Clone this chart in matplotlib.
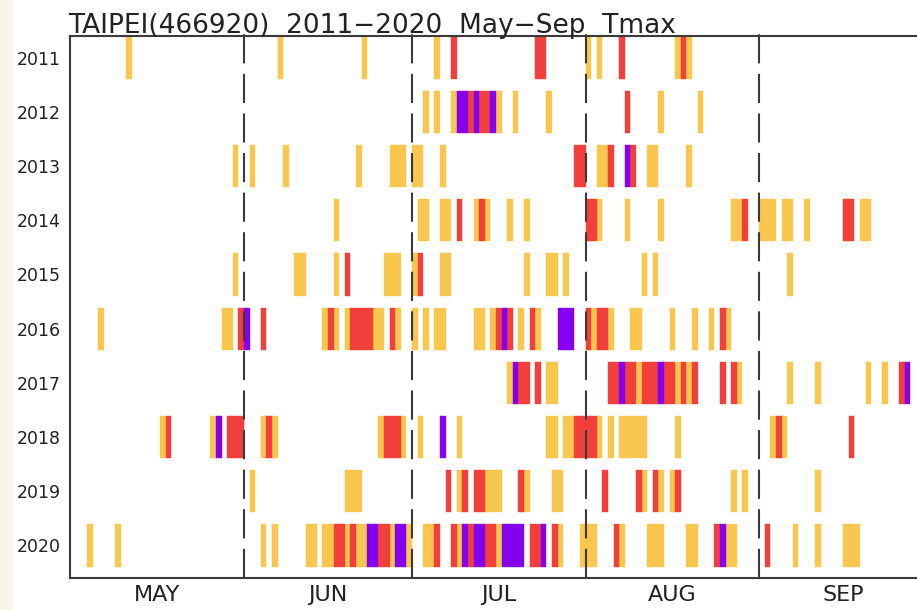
import matplotlib
matplotlib.use("Agg")
import matplotlib.pyplot as plt
from matplotlib.patches import Rectangle

# rows of the chart, top to bottom
years = [2011, 2012, 2013, 2014, 2015, 2016, 2017, 2018, 2019, 2020]

month_names = ["MAY", "JUN", "JUL", "AUG", "SEP"]
month_lengths = [31, 30, 31, 31, 30]

# day number counted from May 1 (= 0) to Sep 30 (= 152)
yellow_2011 = [10, 37, 52, 65, 92, 94, 108, 110]
red_2011 = [68, 83, 84, 98, 109]
purple_2011 = []

yellow_2012 = [63, 65, 68, 76, 79, 85, 105, 112]
red_2012 = [71, 73, 74, 99]
purple_2012 = [69, 70, 72, 75]

yellow_2013 = [29, 32, 38, 51, 57, 58, 59, 61, 62, 66, 94, 95, 103, 104, 110]
red_2013 = [90, 91, 96, 100]
purple_2013 = [99]

yellow_2014 = [47, 62, 63, 66, 67, 72, 74, 78, 81, 94, 99, 105, 118, 119,
               123, 124, 125, 127, 128, 131, 141, 142]
red_2014 = [69, 73, 92, 93, 120, 138, 139]
purple_2014 = []

yellow_2015 = [29, 40, 41, 47, 56, 57, 58, 61, 66, 67, 81, 85, 86, 88,
               102, 104, 128]
red_2015 = [49, 62]
purple_2015 = []

yellow_2016 = [5, 27, 28, 45, 47, 49, 54, 55, 58, 61, 63, 65, 66, 72, 73,
               75, 80, 83, 93, 96, 100, 101, 107, 111, 114, 117]
red_2016 = [30, 34, 46, 50, 51, 52, 53, 57, 76, 78, 82, 92, 94, 95, 116]
purple_2016 = [31, 77, 87, 88, 89]

yellow_2017 = [78, 85, 86, 101, 108, 110, 119, 128, 133, 142, 145]
red_2017 = [80, 81, 83, 96, 97, 99, 100, 102, 103, 104, 106, 107, 109,
            111, 116, 118, 148]
purple_2017 = [79, 98, 105, 149]

yellow_2018 = [16, 25, 34, 36, 55, 59, 62, 69, 85, 86, 88, 89, 94, 96,
               98, 99, 100, 101, 102, 108, 125, 127]
red_2018 = [17, 28, 29, 30, 35, 56, 57, 58, 90, 91, 92, 93, 126, 139]
purple_2018 = [26, 66]

yellow_2019 = [32, 49, 50, 51, 69, 74, 75, 76, 81, 86, 87, 102, 105, 107,
               118, 120, 133]
red_2019 = [67, 70, 72, 73, 80, 95, 101, 104, 108]
purple_2019 = []

yellow_2020 = [3, 8, 34, 36, 42, 43, 45, 46, 49, 51, 52, 57, 60, 63, 64,
               69, 76, 87, 91, 92, 93, 98, 103, 104, 105, 110, 111, 117,
               118, 129, 133, 138, 139, 140]
red_2020 = [47, 48, 50, 55, 56, 65, 68, 71, 74, 75, 82, 83, 86, 97, 115, 124]
purple_2020 = [53, 54, 58, 59, 70, 72, 73, 77, 78, 79, 80, 84, 116]

yellow_days = [yellow_2011, yellow_2012, yellow_2013, yellow_2014, yellow_2015,
               yellow_2016, yellow_2017, yellow_2018, yellow_2019, yellow_2020]
red_days = [red_2011, red_2012, red_2013, red_2014, red_2015,
            red_2016, red_2017, red_2018, red_2019, red_2020]
purple_days = [purple_2011, purple_2012, purple_2013, purple_2014, purple_2015,
               purple_2016, purple_2017, purple_2018, purple_2019, purple_2020]

YELLOW = "#f9c74e"
RED = "#f1403c"
PURPLE = "#8400ee"
LINE = "#3a3a3a"

W, H = 917, 610
fig = plt.figure(figsize=(W / 100, H / 100), dpi=100)

# light strip along the left border of the screenshot
fig.add_artist(Rectangle((0, 0), 13 / W, 1, transform=fig.transFigure,
                         facecolor="#faf5e8", edgecolor="none", zorder=0))

# axes runs a bit past the right edge, as in the original crop
ax = fig.add_axes([70.4 / W, 32 / H, 856.8 / W, 542 / H])

total_days = sum(month_lengths)
month_starts = [sum(month_lengths[:i]) for i in range(len(month_lengths))]
month_mids = [s + n / 2 for s, n in zip(month_starts, month_lengths)]

bar_h = 0.78
for row in range(len(years)):
    for days, col in ((yellow_days[row], YELLOW), (red_days[row], RED),
                      (purple_days[row], PURPLE)):
        if not days:
            continue
        ax.broken_barh([(d, 1) for d in days], (row - bar_h / 2, bar_h),
                       facecolors=col, edgecolors=col, linewidth=0.3, zorder=2)

for s in month_starts[1:]:
    ax.axvline(s, ymin=0, ymax=1 + 7 / 542, clip_on=False, color=LINE,
               lw=1.5, linestyle=(0, (14, 5)), zorder=3)

ax.set_xlim(0, total_days)
ax.set_ylim(len(years) - 0.4, -0.4)

ax.set_xticks(month_mids, month_names, fontsize=16)
ax.set_yticks(range(len(years)), [str(y) for y in years], fontsize=12.5)
ax.tick_params(axis="x", length=0, pad=5, colors="#222222")
ax.tick_params(axis="y", length=0, pad=7, colors="#222222")

for side in ("left", "bottom", "top", "right"):
    ax.spines[side].set_color(LINE)
    ax.spines[side].set_linewidth(1.5)

fig.text(68 / W, 1 - 33 / H, "TAIPEI(466920)  2011\u22122020  May\u2212Sep  Tmax",
         fontsize=19, color="#222222", va="baseline", ha="left")

fig.savefig("out.png", dpi=100)
